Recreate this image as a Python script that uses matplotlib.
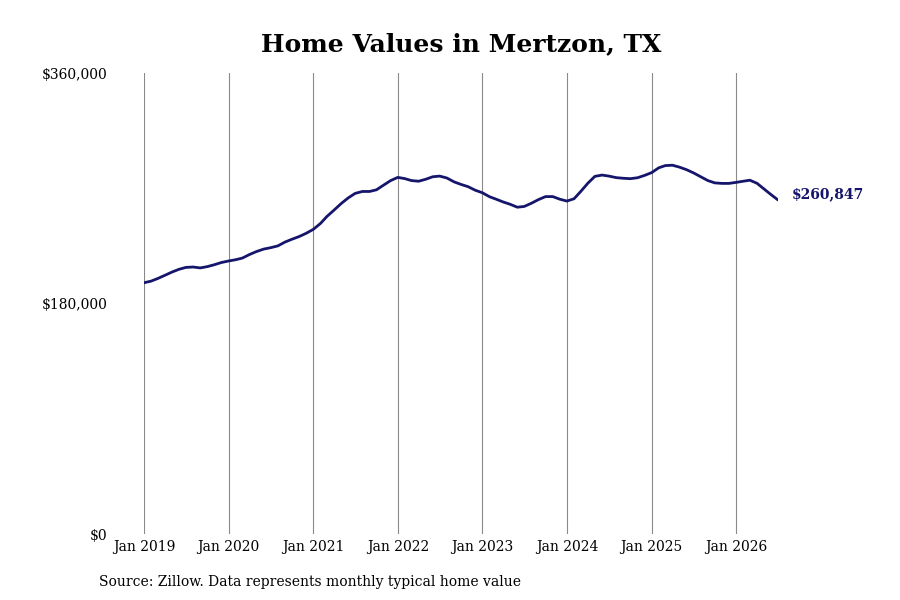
import matplotlib
matplotlib.use("Agg")
import matplotlib.pyplot as plt
import pandas as pd

plt.rcParams['font.family'] = ['DejaVu Serif']

dates = pd.date_range("2019-01-01", "2026-07-01", freq="MS")
values = [
    # 2019
    196200, 197500, 199500, 202000, 204500, 206700, 208200, 208500, 207800, 208800, 210300, 212000,
    # 2020
    213200, 214200, 215500, 218300, 220600, 222500, 223600, 225000, 228000, 230200, 232300, 234800,
    # 2021
    237900, 242500, 248000, 253000, 258000, 262500, 266000, 267500, 267500, 268800, 272500, 276000,
    # 2022
    278500, 277500, 276000, 275500, 277000, 279000, 279500, 278000, 275000, 273000, 271200, 268500,
    # 2023
    266500, 263400, 261500, 259300, 257500, 255200, 255800, 258300, 261200, 263500, 263500, 261500,
    # 2024
    260000, 261800, 267500, 274000, 279300, 280300, 279500, 278300, 277800, 277500, 278200, 280000,
    # 2025
    282200, 286000, 287700, 288000, 286500, 284500, 282000, 279000, 276000, 274200, 273800, 273800,
    # 2026
    274600, 275500, 276300, 273900, 269500, 265000, 260847,
]
year_ticks = pd.date_range("2019-01-01", "2026-01-01", freq="YS")
year_labels = [d.strftime("Jan %Y") for d in year_ticks]
y_ticks = [0, 180000, 360000]
y_labels = ["$0", "$180,000", "$360,000"]

fig = plt.figure(figsize=(9, 6), dpi=100)
ax = fig.add_axes([0.16, 0.11, 0.7045, 0.7683])

ax.plot(dates, values, color="#15156b", linewidth=2.0, solid_capstyle="round",
        solid_joinstyle="round")

ax.set_xlim(dates[0], dates[-1])
ax.set_ylim(0, 360000)
ax.set_xticks(year_ticks)
ax.set_xticklabels(year_labels, fontsize=10)
ax.set_yticks(y_ticks)
ax.set_yticklabels(y_labels, fontsize=10)
ax.tick_params(axis="x", length=0, pad=4)
ax.tick_params(axis="y", length=0, pad=26.5)
ax.grid(axis="x", color="#8a8a8a", linewidth=0.8)
ax.grid(axis="y", visible=False)
for s in ax.spines.values():
    s.set_visible(False)

ax.annotate(f"${values[-1]:,}", xy=(dates[-1], values[-1]), xytext=(10, 4),
            textcoords="offset points", fontsize=10, fontweight="bold",
            color="#15156b", va="center", ha="left", annotation_clip=False)

ax.set_title("Home Values in Mertzon, TX", fontsize=18, fontweight="bold", pad=15.5)

fig.text(0.11, 0.03, "Source: Zillow. Data represents monthly typical home value",
         fontsize=10, ha="left", va="center")

fig.savefig("out.png", dpi=100)
